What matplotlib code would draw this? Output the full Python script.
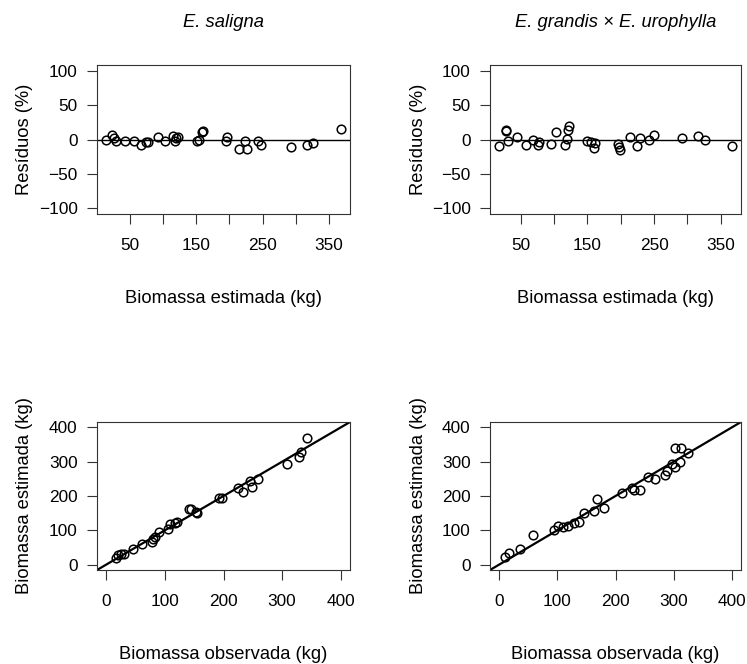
import numpy as np
from matplotlib import pyplot as plt

plt.rcParams['font.family'] = ['Liberation Sans', 'DejaVu Sans']

# E. saligna - residuos vs biomassa estimada
sal_est = [14.8, 23.8, 25.8, 28.9, 43.5, 56, 66.6, 75.2, 77, 93.3, 102.8, 114.4, 118.4, 119, 122,
           150.7, 153.7, 159.3, 159.8, 195, 196, 214, 223, 226.6, 242.8, 248.3, 292.6, 316.7, 325.3, 367.6]
sal_res = [0, 5.9, 2, -2.5, -1.5, -1.5, -7.4, -4, -3.4, 3.4, -2, 5.4, -1.5, 2.5, 4,
           -2, 0, 10.8, 12.7, -2.5, 3.4, -13.7, -1.5, -13.7, -1.5, -7.8, -10.8, -7.8, -5.4, 15.7]

# E. grandis x E. urophylla - residuos vs biomassa estimada
gu_est = [18, 27.5, 28, 30.5, 44.5, 58.5, 69, 76, 78, 95.5, 103, 117, 119, 120.5, 122.5,
          149.5, 156, 159.5, 161.5, 196, 197.5, 198.5, 214.5, 225, 228.5, 242.5, 249.5, 292, 316.5, 326, 366.5]
gu_res = [-9.3, 13.7, 11.8, -1.5, 3.4, -7.4, -0.5, -7.8, -3, -5.9, 10.3, -7.4, 1, 13.2, 19.1,
          -1.5, -3, -12.7, -4.9, -6.9, -11.3, -14.7, 3.4, -9.3, 2, -0.5, 6.4, 1.5, 5.4, -0.5, -9.3]

# observada vs estimada
sal_obs2 = [16, 20.6, 24.6, 30.3, 45.7, 60, 77.7, 80, 82.3, 90.3, 104.6, 108, 117.7, 120, 140.6,
            145, 153, 154.3, 193, 197, 225, 233.7, 245.7, 248, 258.9, 308.6, 328.6, 332, 342.9]
sal_est2 = [17.6, 27.3, 29.3, 31.2, 43.9, 58.5, 66.3, 74, 79, 95.6, 103.4, 118, 120, 123, 162,
            161, 153, 150, 195, 195, 224, 212.7, 243.9, 227, 248.8, 292.7, 315, 327.8, 368.8]

gu_obs2 = [10.4, 17.3, 35.7, 57.6, 94.4, 100.7, 109.4, 119.1, 127.8, 137, 145, 163.5, 167.5, 180,
           210.6, 228, 232, 243, 256.7, 268.2, 285.5, 287.8, 297, 301.6, 301.6, 312, 310.8, 324.6]
gu_est2 = [20.5, 32.2, 44.9, 86.8, 99.5, 112.2, 110.2, 113.2, 120, 123, 151.2, 157, 190.2, 165.9,
           209.8, 224.4, 218.5, 217.6, 255.6, 250.7, 260.5, 272.2, 293.7, 285.9, 341.5, 341.5, 300.5, 324.9]

titles = ["E. saligna", "E. grandis × E. urophylla"]

W, H = 747, 664
fig = plt.figure(figsize=(W / 100, H / 100), dpi=100)

def box(l, t, r, b):
    return [l / W, 1 - b / H, (r - l) / W, (b - t) / H]

ax1 = fig.add_axes(box(97, 65, 350, 214))
ax2 = fig.add_axes(box(490, 65, 741, 214))
ax3 = fig.add_axes(box(97, 422, 350, 570))
ax4 = fig.add_axes(box(490, 422, 741, 570))

def style(ax):
    for s in ax.spines.values():
        s.set_linewidth(0.8)
        s.set_color('#333333')
    ax.tick_params(direction='out', length=7, width=0.8, labelsize=12.4, color='#333333')
    ax.tick_params(axis='x', pad=10.5)
    ax.tick_params(axis='y', pad=7)

def rlim(v):
    lo, hi = min(v), max(v)
    d = 0.04 * (hi - lo)
    return lo - d, hi + d

mk = dict(marker='o', ls='none', mfc='none', mec='black', ms=6.2, mew=1.1)

for ax, x, y, t in [(ax1, sal_est, sal_res, titles[0]), (ax2, gu_est, gu_res, titles[1])]:
    ax.plot(x, y, **mk)
    ax.axhline(0, color='black', lw=1)
    ax.set_xlim(rlim(x))
    ax.set_ylim(-108, 108)
    ax.set_yticks([-100, -50, 0, 50, 100])
    ax.set_xticks(np.arange(50, 351, 50))
    ax.set_xticklabels(['50', '', '150', '', '250', '', '350'])
    style(ax)
    ax.text(0.5, 1.255, t, transform=ax.transAxes, ha='center', va='baseline',
            fontsize=13.2, style='italic')
    ax.text(0.5, -0.597, 'Biomassa estimada (kg)', transform=ax.transAxes, ha='center',
            va='baseline', fontsize=13.2)
    ax.text(-0.285, 0.5, 'Resíduos (%)', transform=ax.transAxes, ha='center', va='center',
            rotation=90, fontsize=13.2)

for ax, x, y in [(ax3, sal_obs2, sal_est2), (ax4, gu_obs2, gu_est2)]:
    ax.plot([-16, 416], [-16, 416], color='black', lw=1.6)
    ax.plot(x, y, **mk)
    ax.set_xlim(-16, 416)
    ax.set_ylim(-16, 416)
    ax.set_xticks([0, 100, 200, 300, 400])
    ax.set_yticks([0, 100, 200, 300, 400])
    style(ax)
    ax.text(0.5, -0.60, 'Biomassa observada (kg)', transform=ax.transAxes, ha='center',
            va='baseline', fontsize=13.2)
    ax.text(-0.285, 0.5, 'Biomassa estimada (kg)', transform=ax.transAxes, ha='center',
            va='center', rotation=90, fontsize=13.2)

plt.savefig('out.png', dpi=100)
